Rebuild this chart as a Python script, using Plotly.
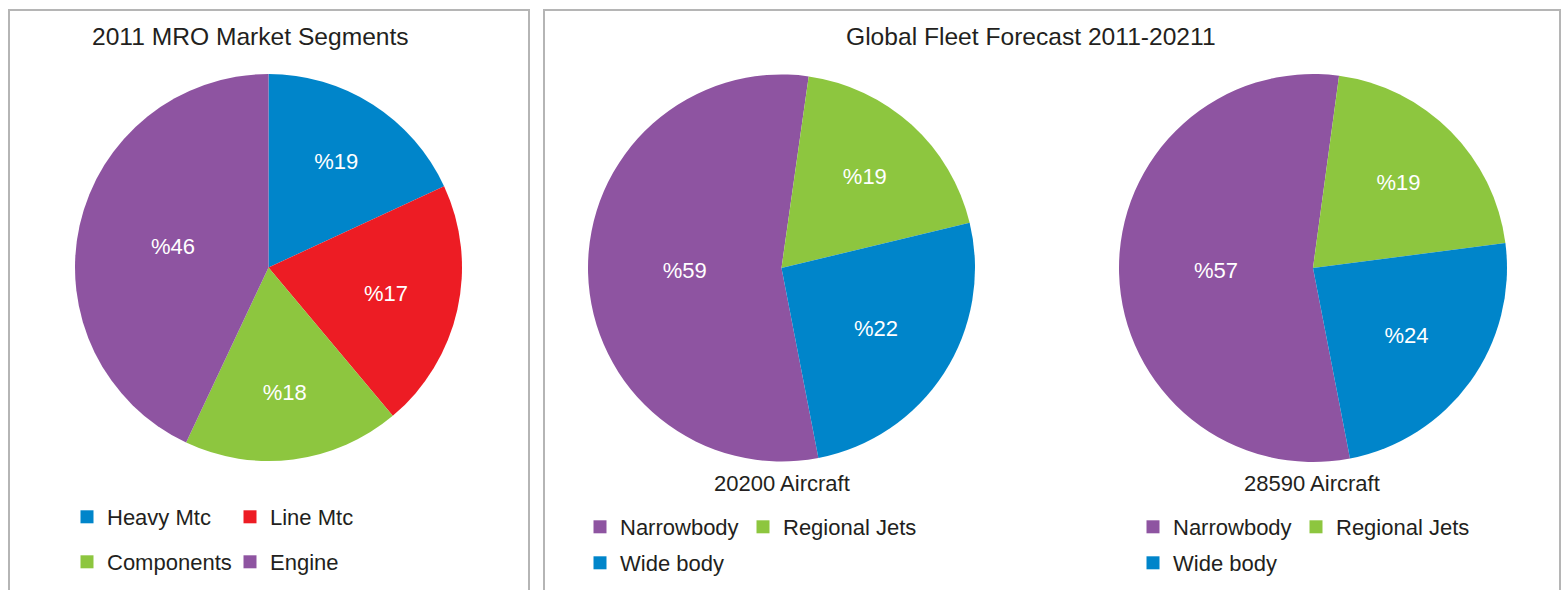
import plotly.graph_objects as go

W, H = 1564, 590

# ---- data ----
mro_labels = ["Heavy Mtc", "Line Mtc", "Components", "Engine"]
mro_values = [18.1, 20.8, 18.1, 43.0]
mro_text = ["%19", "%17", "%18", "%46"]
mro_colors = ["#0085CA", "#ED1C24", "#8DC63F", "#8E54A1"]

fleet_labels = ["Narrowbody", "Regional Jets", "Wide body"]
fleet_colors = ["#8E54A1", "#8DC63F", "#0085CA"]
fleet2011_values = [55.3, 19.0, 25.7]
fleet2011_text = ["%59", "%19", "%22"]
fleet2021_values = [55.2, 20.8, 24.0]
fleet2021_text = ["%57", "%19", "%24"]

titles = ["2011 MRO Market Segments", "Global Fleet Forecast 2011-20211"]
subtitles = ["20200 Aircraft", "28590 Aircraft"]

FONT = "Liberation Sans, Arial, sans-serif"
TXT = "#231F20"


def fx(px):
    return px / W


def fy(py):
    return 1 - py / H


def dom(cx, cy, r):
    return dict(x=[fx(cx - r), fx(cx + r)], y=[fy(cy + r), fy(cy - r)])


fig = go.Figure()

pie_common = dict(
    sort=False, direction="clockwise", textinfo="text", textposition="inside",
    insidetextorientation="horizontal", showlegend=False, hoverinfo="label+percent",
    textfont=dict(color="white", size=22, family=FONT),
    marker=dict(line=dict(width=0)),
)

fig.add_trace(go.Pie(labels=mro_labels, values=mro_values, text=mro_text,
                     marker_colors=mro_colors, rotation=0,
                     domain=dom(268.5, 267.5, 193.5), **pie_common))
fig.add_trace(go.Pie(labels=fleet_labels, values=fleet2011_values, text=fleet2011_text,
                     marker_colors=fleet_colors, rotation=169,
                     domain=dom(781.5, 268, 193.5), **pie_common))
fig.add_trace(go.Pie(labels=fleet_labels, values=fleet2021_values, text=fleet2021_text,
                     marker_colors=fleet_colors, rotation=169,
                     domain=dom(1313, 268, 194), **pie_common))

# legend entries (one legend per row)
legend_rows = [
    ("legend", mro_labels[:2], mro_colors[:2], 67, 517),
    ("legend2", mro_labels[2:], mro_colors[2:], 67, 562),
    ("legend3", fleet_labels[:2], fleet_colors[:2], 580, 527),
    ("legend4", fleet_labels[2:], fleet_colors[2:], 580, 563),
    ("legend5", fleet_labels[:2], fleet_colors[:2], 1133, 527),
    ("legend6", fleet_labels[2:], fleet_colors[2:], 1133, 563),
]
layout_legends = {}
for lg, names, cols, lx, ly in legend_rows:
    for k, (n, c) in enumerate(zip(names, cols)):
        last = k == len(names) - 1
        fig.add_trace(go.Scatter(x=[None], y=[None], mode="markers", name=n,
                                 marker=dict(symbol="square", size=13, color=c),
                                 legend=lg, showlegend=True, hoverinfo="skip",
                                 legendwidth=180 if last else 118))
    layout_legends[lg] = dict(
        orientation="h", x=fx(lx), xanchor="left", y=fy(ly), yanchor="middle",
        font=dict(size=22, family=FONT, color=TXT), bgcolor="rgba(0,0,0,0)",
        entrywidthmode="pixels", itemwidth=30,
        itemclick=False, itemdoubleclick=False,
    )

annotations = [
    dict(text=titles[0], x=fx(251), y=fy(36)),
    dict(text=titles[1], x=fx(1031), y=fy(36)),
    dict(text=subtitles[0], x=fx(782), y=fy(483)),
    dict(text=subtitles[1], x=fx(1312), y=fy(483)),
]
for i, a in enumerate(annotations):
    a.update(xref="paper", yref="paper", showarrow=False, xanchor="center", yanchor="middle",
             font=dict(size=24.6 if i < 2 else 22, family=FONT, color=TXT))

border = dict(color="#B5B5B5", width=2)
shapes = [
    dict(type="rect", xref="paper", yref="paper", x0=fx(9), x1=fx(529), y0=fy(620), y1=fy(10), line=border),
    dict(type="rect", xref="paper", yref="paper", x0=fx(544), x1=fx(1560), y0=fy(620), y1=fy(10), line=border),
]

fig.update_layout(
    width=W, height=H, margin=dict(l=0, r=0, t=0, b=0),
    paper_bgcolor="white", plot_bgcolor="white",
    xaxis=dict(visible=False), yaxis=dict(visible=False),
    annotations=annotations, shapes=shapes,
    font=dict(family=FONT, color=TXT),
    **layout_legends,
)

fig.write_html("out.html")
